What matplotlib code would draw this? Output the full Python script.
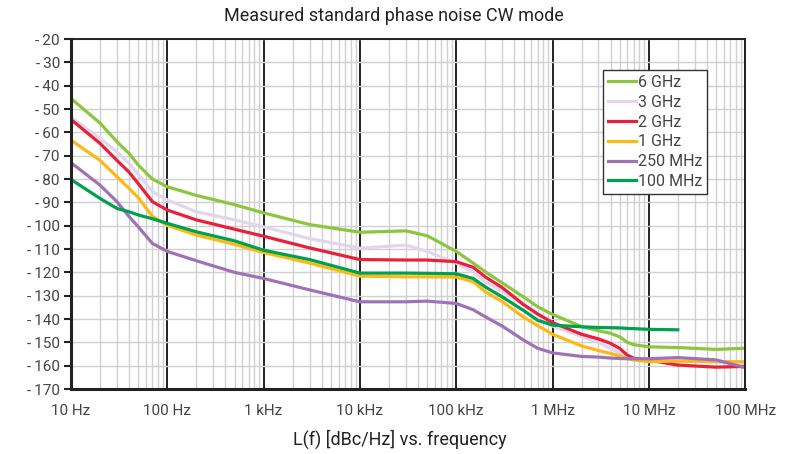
import numpy as np
import matplotlib
matplotlib.use("Agg")
import matplotlib.pyplot as plt
from matplotlib.ticker import FixedLocator, NullFormatter

plt.rcParams['font.family'] = ['Roboto', 'DejaVu Sans']

# offset frequencies (Hz)
freq = [10, 20, 30, 40, 50, 70, 100, 200, 500, 1e3, 3e3, 1e4, 3e4, 5e4, 1e5, 1.5e5,
        2e5, 3e5, 5e5, 7e5, 1e6, 2e6, 3e6, 4e6, 5e6, 6e6, 7e6, 1e7, 2e7, 5e7, 1e8]

# phase noise in dBc/Hz
pn_6ghz = [-45.5, -56, -64, -69, -74, -80, -83.3, -87, -91, -94.5, -99.5, -102.8,
           -102.2, -104.3, -111, -116, -119.7, -124.5, -130.5, -134.7, -138, -143.2,
           -145, -146.1, -147.6, -150, -151, -151.9, -152.2, -153, -152.5]
pn_3ghz = [-53.5, -62.6, -68.3, -73.3, -78, -85.4, -89, -94, -97.5, -100.5, -105.5,
           -109.6, -108.3, -111, -116, -120, -124, -128, -134, -138.5, -143, -147.5,
           -150, -152.6, -154.5, -156, -156.9, -157.5, -158, -158.5, -159]
pn_2ghz = [-54.5, -64.7, -72, -77, -82, -89.7, -93.3, -97.5, -101.5, -104.5, -109.5,
           -114.5, -114.7, -114.7, -115.4, -117.8, -121.9, -126.5, -133.8, -137.8,
           -141.5, -146.5, -148.5, -150.4, -152.6, -155.5, -156.8, -157.6, -159.7,
           -160.6, -160.3]
pn_1ghz = [-63.3, -72, -79, -84, -88, -96, -99.8, -104, -108, -111.5, -116, -121.6,
           -121.9, -121.9, -122, -124, -128.3, -132.5, -139.2, -142.8, -146.5, -151.5,
           -153.5, -154.7, -155.8, -156.9, -157.5, -158.3, -158, -158.2, -158.3]
pn_250mhz = [-73, -82.6, -89.7, -96, -100.5, -107.6, -111, -115, -120, -122.6, -127.5,
             -132.6, -132.6, -132.3, -133.3, -136, -139, -143, -149, -152.5, -154.5,
             -156, -156.3, -156.7, -156.9, -157, -157, -157, -156.5, -157.5, -160.8]
pn_100mhz = [-80.2, -88.3, -92.6, -94, -95.4, -97, -99, -102.6, -106.5, -110.5, -114.5,
             -120.3, -120.3, -120.4, -120.6, -122.6, -126.2, -130.5, -136.3, -140.5,
             -142.6, -143.3, -143.6, -143.7, -143.8, -144, -144.1, -144.4, -144.6,
             np.nan, np.nan]

labels = ['6 GHz', '3 GHz', '2 GHz', '1 GHz', '250 MHz', '100 MHz']
colors = ['#8cc63e', '#e3d6ec', '#e8203a', '#fdb913', '#9f72b8', '#00a04f']
series = [pn_6ghz, pn_3ghz, pn_2ghz, pn_1ghz, pn_250mhz, pn_100mhz]

xticks = [10, 100, 1e3, 1e4, 1e5, 1e6, 1e7, 1e8]
xticklabels = ['10 Hz', '100 Hz', '1 kHz', '10 kHz', '100 kHz', '1 MHz', '10 MHz', '100 MHz']
yticks = list(range(-20, -171, -10))

fig = plt.figure(figsize=(7.9, 4.54), dpi=100)
ax = fig.add_axes([0.0899, 0.143, 0.8533, 0.771])

ax.set_xscale('log')
ax.set_xlim(10, 1e8)
ax.set_ylim(-170, -20)

# grid: light minor lines, dark decade lines
minors = [m * 10 ** d for d in range(1, 8) for m in range(2, 10)]
ax.xaxis.set_minor_locator(FixedLocator(minors))
ax.xaxis.set_minor_formatter(NullFormatter())
ax.grid(True, which='minor', axis='x', color='#d0d0d0', lw=1.0)
ax.grid(True, which='major', axis='y', color='#d0d0d0', lw=1.0)
ax.grid(True, which='major', axis='x', color='#222222', lw=1.4)
ax.set_axisbelow(True)

for vals, lab, c in zip(series, labels, colors):
    ax.plot(freq, vals, color=c, lw=2.3, label=lab, solid_joinstyle='round')

ax.set_xticks(xticks)
ax.set_xticklabels(xticklabels)
ax.set_yticks(yticks)
ax.set_yticklabels([f'-\u2009{abs(v)}' for v in yticks])
ax.tick_params(axis='x', which='both', length=0, pad=11, labelsize=11, labelcolor='#444444')
ax.tick_params(axis='y', length=5, width=1.5, color='#222222', pad=3,
               labelsize=11, labelcolor='#444444')

for s in ['left', 'bottom']:
    ax.spines[s].set_linewidth(2.2)
    ax.spines[s].set_color('#222222')
for s in ['top', 'right']:
    ax.spines[s].set_linewidth(1.4)
    ax.spines[s].set_color('#222222')

ax.set_title('Measured standard phase noise CW mode', fontsize=13, color='#222222',
             pad=13, x=0.479)
ax.set_xlabel('L(f) [dBc/Hz] vs. frequency', fontsize=13, color='#222222')
ax.xaxis.set_label_coords(0.488, -0.117)

leg = ax.legend(loc='upper left', bbox_to_anchor=(0.789, 0.911), borderaxespad=0,
                frameon=True, fancybox=False, edgecolor='#333333', framealpha=1,
                fontsize=11.5, handlelength=1.75, handletextpad=0.15,
                labelspacing=0.3, borderpad=0.3)
leg.get_frame().set_linewidth(1.0)
for t in leg.get_texts():
    t.set_color('#444444')

fig.savefig('out.png', dpi=100, facecolor='white')
